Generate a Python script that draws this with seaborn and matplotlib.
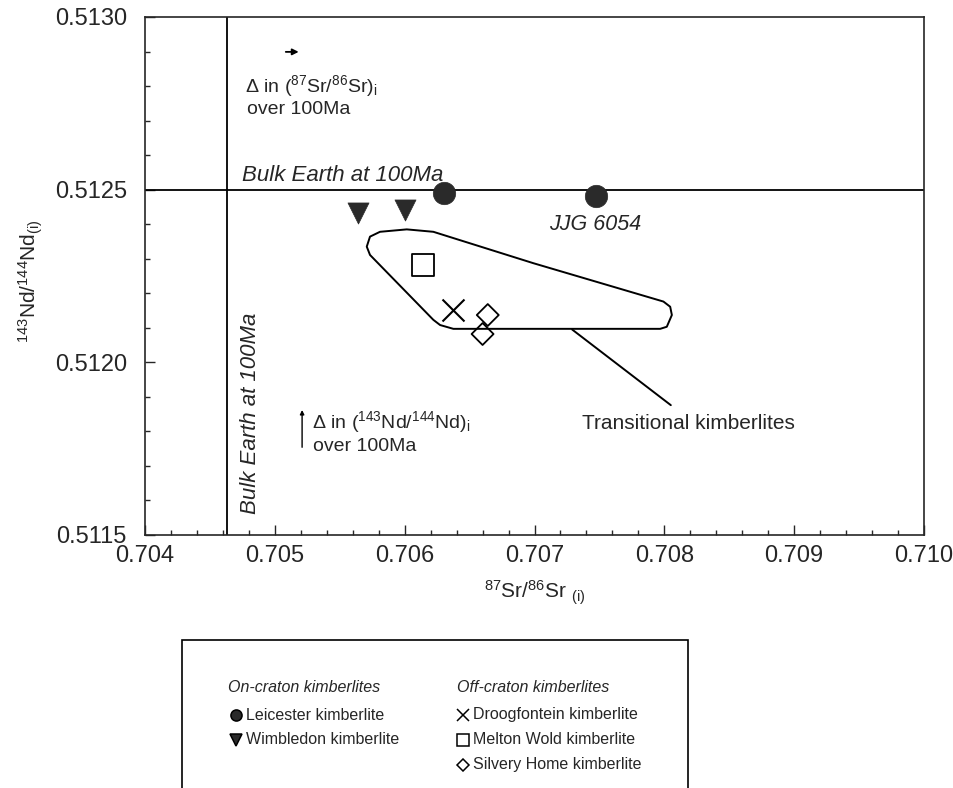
import numpy as np
import pandas as pd
import matplotlib
matplotlib.use("Agg")
import matplotlib.pyplot as plt
import seaborn as sns
from matplotlib.lines import Line2D
from matplotlib.patches import Rectangle, Polygon
from matplotlib.ticker import MultipleLocator, FormatStrFormatter

# kimberlite samples
groups = ["Leicester", "Leicester", "Wimbledon", "Wimbledon",
          "Melton Wold", "Droogfontein", "Silvery Home", "Silvery Home"]
sr_i = [0.70630, 0.70747, 0.70564, 0.70600, 0.70614, 0.70637, 0.70664, 0.70660]
nd_i = [0.512490, 0.512482, 0.512433, 0.512441, 0.512282, 0.512152, 0.512137, 0.512082]

# outline of the transitional kimberlite field
field_sr = [0.705810, 0.706016, 0.706221, 0.706992, 0.707993, 0.708045, 0.708058,
            0.708019, 0.707968, 0.706375, 0.706273, 0.706221, 0.705733, 0.705708, 0.705733]
field_nd = [0.512378, 0.512385, 0.512378, 0.512287, 0.512176, 0.512161, 0.512137,
            0.512103, 0.512097, 0.512097, 0.512108, 0.512123, 0.512311, 0.512335, 0.512364]

# bulk earth reference at 100 Ma
bulk_sr = 0.70463
bulk_nd = 0.51250

# leader line from the field to its label
leader_sr = [0.707290, 0.708050]
leader_nd = [0.512095, 0.511876]

styles = {
    "Leicester": dict(marker="o", s=260, color="#2a2a2a", edgecolor="#2a2a2a", linewidth=0.5),
    "Wimbledon": dict(marker="v", s=230, color="#2a2a2a", edgecolor="#2a2a2a", linewidth=0.5),
    "Melton Wold": dict(marker="s", s=250, color="black", facecolor="none", edgecolor="black", linewidth=1.3),
    "Droogfontein": dict(marker="x", s=250, color="black", linewidth=1.5),
    "Silvery Home": dict(marker="D", s=125, color="black", facecolor="none", edgecolor="black", linewidth=1.3),
}

df = pd.DataFrame({"group": groups, "sr": sr_i, "nd": nd_i})

sns.set_style("ticks")
plt.rcParams["font.family"] = ["Liberation Sans", "DejaVu Sans"]
plt.rcParams["mathtext.fontset"] = "custom"
plt.rcParams["mathtext.rm"] = "Liberation Sans"
plt.rcParams["mathtext.it"] = "Liberation Sans:italic"

fig = plt.figure(figsize=(9.54, 7.88), dpi=100)
ax = fig.add_axes([145 / 954, 1 - 535 / 788, (924 - 145) / 954, (535 - 17) / 788])

# reference lines
ax.axhline(bulk_nd, color="black", lw=1.3, zorder=1)
ax.axvline(bulk_sr, color="black", lw=1.3, zorder=1)

# transitional field
ax.add_patch(Polygon(np.column_stack([field_sr, field_nd]), closed=True,
                     fill=False, edgecolor="black", lw=1.4, joinstyle="round"))
ax.plot(leader_sr, leader_nd, color="black", lw=1.4)

for g, kw in styles.items():
    sns.scatterplot(data=df[df["group"] == g], x="sr", y="nd", ax=ax, zorder=3, **kw)

ax.set_xlim(0.704, 0.710)
ax.set_ylim(0.5115, 0.5130)
ax.xaxis.set_major_locator(MultipleLocator(0.001))
ax.xaxis.set_minor_locator(MultipleLocator(0.0002))
ax.yaxis.set_major_locator(MultipleLocator(0.0005))
ax.yaxis.set_minor_locator(MultipleLocator(0.0001))
ax.xaxis.set_major_formatter(FormatStrFormatter("%.3f"))
ax.yaxis.set_major_formatter(FormatStrFormatter("%.4f"))
ax.tick_params(which="major", direction="in", length=7, width=1, labelsize=17)
ax.tick_params(axis="x", which="major", pad=7)
ax.tick_params(axis="y", which="major", pad=13)
ax.tick_params(which="minor", direction="in", length=3.5, width=1)
for sp in ax.spines.values():
    sp.set_linewidth(1.2)
    sp.set_visible(True)

ax.set_xlabel(r"$^{87}$Sr/$^{86}$Sr $_{\rm (i)}$", fontsize=15)
ax.set_ylabel(r"$^{143}$Nd/$^{144}$Nd$_{\rm (i)}$", fontsize=15)
ax.xaxis.set_label_coords(0.5, -0.085)
ax.yaxis.set_label_coords(-0.128, 0.49)

# annotations
ax.text(0.704747, 0.51251, "Bulk Earth at 100Ma", fontsize=16, style="italic", va="bottom")
ax.text(0.704809, 0.511853, "Bulk Earth at 100Ma", fontsize=16, style="italic",
        rotation=90, ha="center", va="center")
ax.text(0.707467, 0.512398, "JJG 6054", fontsize=15.5, style="italic", ha="center", va="center")
ax.text(0.707365, 0.511822, "Transitional kimberlites", fontsize=15, va="center")

ax.annotate("", xy=(0.705205, 0.512899), xytext=(0.705063, 0.512899),
            arrowprops=dict(arrowstyle="-|>", lw=1.3, color="black", mutation_scale=9))
ax.text(0.704770, 0.512800, "Δ in ($^{87}$Sr/$^{86}$Sr)$_{\\rm i}$", fontsize=14, va="center")
ax.text(0.704785, 0.512731, "over 100Ma", fontsize=14, va="center")

ax.annotate("", xy=(0.705210, 0.511870), xytext=(0.705210, 0.511746),
            arrowprops=dict(arrowstyle="-|>", lw=1, color="black", mutation_scale=6))
ax.text(0.705287, 0.511827, "Δ in ($^{143}$Nd/$^{144}$Nd)$_{\\rm i}$", fontsize=14, va="center")
ax.text(0.705295, 0.511755, "over 100Ma", fontsize=14, va="center")

# legend box (bottom edge runs off the page)
fig.add_artist(Rectangle((182 / 954, -0.1), (688 - 182) / 954, 0.1 + 1 - 640 / 788,
                         transform=fig.transFigure, fill=False, edgecolor="black",
                         lw=1.2, clip_on=False))

rows_y = [1 - 687 / 788, 1 - 715 / 788, 1 - 740 / 788, 1 - 765 / 788]
fig.text(228 / 954, rows_y[0], "On-craton kimberlites", fontsize=11.5, style="italic", va="center")
fig.text(457 / 954, rows_y[0], "Off-craton kimberlites", fontsize=11.5, style="italic", va="center")

legend_items = [
    (236, rows_y[1], "Leicester kimberlite", "Leicester"),
    (236, rows_y[2], "Wimbledon kimberlite", "Wimbledon"),
    (463, rows_y[1], "Droogfontein kimberlite", "Droogfontein"),
    (463, rows_y[2], "Melton Wold kimberlite", "Melton Wold"),
    (463, rows_y[3], "Silvery Home kimberlite", "Silvery Home"),
]
for px, ly, label, g in legend_items:
    kw = styles[g]
    mk = kw["marker"]
    face = kw.get("facecolor", kw["color"])
    ms = 8 if mk != "D" else 6
    fig.add_artist(Line2D([px / 954], [ly], transform=fig.transFigure, marker=mk,
                          markersize=ms, markerfacecolor=face, markeredgecolor="black",
                          markeredgewidth=1.1, linestyle="none"))
    fig.text((px + 10) / 954, ly, label, fontsize=11.5, va="center")

fig.savefig("out.png", dpi=100)
